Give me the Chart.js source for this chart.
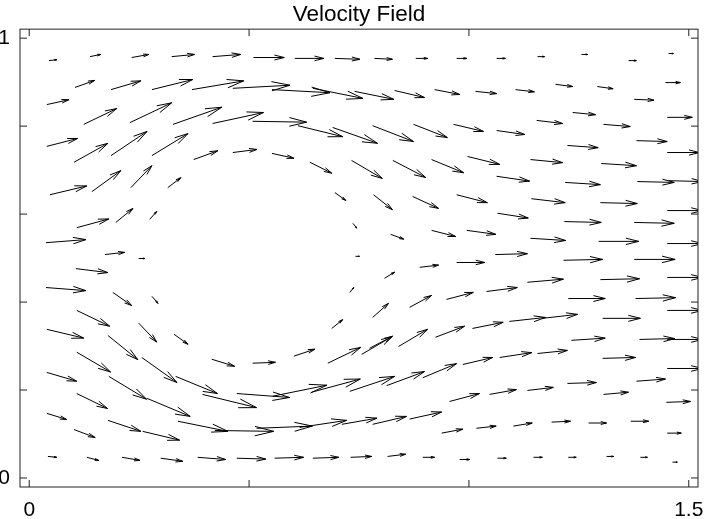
<!DOCTYPE html>
<html>
<head>
<meta charset="utf-8">
<title>Velocity Field</title>
<script src="https://cdn.jsdelivr.net/npm/chart.js@4.4.0/dist/chart.umd.min.js"></script>
<style>
  html, body { margin: 0; padding: 0; background: #fff; }
</style>
</head>
<body>
<canvas id="chart" width="705" height="519"></canvas>
<script>
// Quiver data: arrow tails (qx, qy) and vectors (qu, qv), in data units.
// One line per band of arrows, bottom rows last.
const qx = [
  0.045, 0.138, 0.233, 0.324, 0.417, 0.510, 0.604, 0.695, 0.785, 0.879, 0.972, 1.063, 1.156, 1.256, 1.363, 1.454,
  0.104, 0.186, 0.279, 0.370, 0.463, 0.552, 0.645, 0.740, 0.831, 0.922, 1.015, 1.106, 1.197, 1.292, 1.376, 1.447,
  0.040, 0.124, 0.229, 0.327, 0.417, 0.508, 0.611, 0.690, 0.781, 0.874, 0.965, 1.063, 1.154, 1.236, 1.306, 1.381, 1.451,
  0.040, 0.102, 0.186, 0.279, 0.374, 0.463, 0.552, 0.638, 0.733, 0.827, 0.915, 0.997, 1.140, 1.224, 1.301, 1.451,
  1.063, 1.219, 1.383, 1.454, 0.047, 0.1425, 0.231, 0.315, 0.695, 0.783, 0.872, 0.972, 1.142, 1.299, 1.451,
  0.108, 0.197, 0.274, 0.736, 1.065, 1.217, 1.376, 0.038, 0.822, 0.915, 0.995, 1.140, 1.295, 1.451,
  0.172, 0.249, 0.742, 0.106, 0.888, 0.972, 1.060, 1.215, 1.376, 1.451, 0.038, 0.190, 0.279, 0.729, 0.808, 1.133, 1.299,
  0.865, 0.949, 1.040, 1.226, 1.379, 1.451, 0.108, 0.040, 0.179, 0.249, 0.329, 0.688, 0.781, 1.008, 1.092, 1.167, 1.304, 0.924, 0.840, 0.774, 1.233, 1.388, 1.451,
  0.108, 0.040, 0.256, 0.415, 0.508, 0.602, 0.679, 0.756, 0.986, 1.070, 1.156, 1.304, 1.451, 0.181, 0.333,
  0.108, 0.268, 0.394, 0.472, 0.554, 0.642, 0.729, 0.813, 0.895, 0.956, 1.047, 1.133, 1.224, 1.306, 1.381, 1.449,
  0.040, 0.102, 0.179, 0.258, 0.338, 0.422, 0.517, 0.615, 0.711, 0.781, 0.865, 0.938, 1.017, 1.101, 1.188, 1.272, 1.368, 1.451,
  0.0425, 0.131, 0.211, 0.299, 0.383, 0.472, 0.558, 0.645, 0.731, 0.815, 0.895, 0.979, 1.065, 1.147, 1.226, 1.313, 1.390, 1.463
];
const qy = [
  0.949, 0.958, 0.956, 0.958, 0.958, 0.956, 0.954, 0.954, 0.954, 0.954, 0.954, 0.954, 0.958, 0.963, 0.949, 0.965,
  0.888, 0.883, 0.883, 0.883, 0.886, 0.883, 0.886, 0.879, 0.881, 0.883, 0.879, 0.883, 0.895, 0.890, 0.861, 0.899,
  0.849, 0.804, 0.808, 0.804, 0.806, 0.811, 0.801, 0.797, 0.801, 0.804, 0.804, 0.790, 0.813, 0.831, 0.804, 0.767, 0.820,
  0.754, 0.718, 0.733, 0.733, 0.724, 0.740, 0.738, 0.718, 0.722, 0.722, 0.724, 0.731, 0.724, 0.756, 0.715, 0.740,
  0.686, 0.672, 0.674, 0.676, 0.644, 0.651, 0.660, 0.660, 0.649, 0.644, 0.640, 0.644, 0.635, 0.626, 0.608,
  0.569, 0.581, 0.588, 0.579, 0.602, 0.583, 0.581, 0.535, 0.554, 0.563, 0.563, 0.545, 0.538, 0.533,
  0.508, 0.499, 0.504, 0.476, 0.479, 0.490, 0.508, 0.495, 0.497, 0.456, 0.433, 0.422, 0.413, 0.422, 0.454, 0.445, 0.451,
  0.388, 0.406, 0.424, 0.408, 0.408, 0.381, 0.381, 0.338, 0.324, 0.352, 0.327, 0.340, 0.365, 0.340, 0.356, 0.363, 0.363, 0.320, 0.299, 0.295, 0.313, 0.315, 0.315,
  0.286, 0.240, 0.274, 0.270, 0.261, 0.277, 0.261, 0.281, 0.258, 0.274, 0.283, 0.272, 0.249, 0.231, 0.231,
  0.192, 0.181, 0.190, 0.192, 0.186, 0.195, 0.197, 0.210, 0.228, 0.174, 0.190, 0.199, 0.215, 0.190, 0.220, 0.172,
  0.147, 0.110, 0.131, 0.106, 0.129, 0.108, 0.113, 0.115, 0.122, 0.122, 0.134, 0.102, 0.113, 0.118, 0.127, 0.125, 0.129, 0.102,
  0.049, 0.047, 0.047, 0.045, 0.047, 0.045, 0.045, 0.045, 0.047, 0.049, 0.047, 0.042, 0.045, 0.047, 0.047, 0.049, 0.047, 0.036
];
const qu = [
  0.018, 0.025, 0.039, 0.052, 0.064, 0.070, 0.066, 0.057, 0.041, 0.027, 0.023, 0.020, 0.016, 0.014, 0.018, 0.011,
  0.045, 0.068, 0.093, 0.118, 0.130, 0.132, 0.114, 0.089, 0.068, 0.057, 0.048, 0.043, 0.039, 0.036, 0.045, 0.034,
  0.050, 0.075, 0.095, 0.111, 0.116, 0.123, 0.102, 0.102, 0.093, 0.077, 0.068, 0.064, 0.059, 0.052, 0.061, 0.070, 0.057,
  0.070, 0.077, 0.082, 0.082, 0.055, 0.055, 0.050, 0.050, 0.070, 0.075, 0.073, 0.073, 0.073, 0.070, 0.080, 0.073,
  0.075, 0.080, 0.084, 0.077, 0.084, 0.066, 0.048, 0.030, 0.025, 0.043, 0.059, 0.070, 0.077, 0.084, 0.080,
  0.073, 0.039, 0.016, 0.009, 0.070, 0.084, 0.091, 0.091, 0.030, 0.055, 0.066, 0.080, 0.091, 0.080,
  0.045, 0.014, 0.009, 0.073, 0.043, 0.064, 0.073, 0.089, 0.093, 0.080, 0.091, 0.043, 0.014, 0.009, 0.023, 0.082, 0.089,
  0.050, 0.061, 0.070, 0.084, 0.091, 0.080, 0.075, 0.084, 0.068, 0.041, 0.032, 0.025, 0.036, 0.070, 0.082, 0.080, 0.086, 0.066, 0.066, 0.052, 0.077, 0.080, 0.080,
  0.077, 0.068, 0.080, 0.052, 0.052, 0.048, 0.075, 0.070, 0.068, 0.073, 0.068, 0.075, 0.080, 0.086, 0.095,
  0.070, 0.098, 0.123, 0.120, 0.123, 0.111, 0.102, 0.086, 0.077, 0.068, 0.061, 0.059, 0.066, 0.057, 0.066, 0.055,
  0.045, 0.048, 0.075, 0.084, 0.114, 0.134, 0.127, 0.107, 0.080, 0.077, 0.073, 0.048, 0.045, 0.043, 0.043, 0.041, 0.041, 0.032,
  0.020, 0.027, 0.041, 0.050, 0.064, 0.066, 0.066, 0.059, 0.048, 0.041, 0.027, 0.023, 0.020, 0.020, 0.018, 0.016, 0.016, 0.011
];
const qv = [
  0.002, 0.005, 0.007, 0.005, 0.005, 0, 0, -0.002, -0.002, 0, 0, 0, 0, 0, 0, 0,
  0.016, 0.020, 0.023, 0.020, 0.007, -0.007, -0.023, -0.018, -0.016, -0.011, -0.005, -0.005, -0.005, -0.005, -0.002, 0,
  0.011, 0.036, 0.045, 0.039, 0.025, -0.002, -0.025, -0.036, -0.036, -0.030, -0.016, -0.009, -0.007, -0.005, -0.005, -0.002, 0,
  0.018, 0.043, 0.055, 0.050, 0.020, 0.007, -0.011, -0.025, -0.041, -0.039, -0.030, -0.018, -0.007, -0.005, -0.005, 0,
  -0.011, -0.005, -0.002, -0.002, 0.020, 0.048, 0.050, 0.023, -0.018, -0.034, -0.027, -0.018, -0.009, -0.002, 0,
  0.020, 0.032, 0.018, -0.011, -0.011, -0.002, -0.002, 0.007, -0.011, -0.014, -0.009, -0.005, 0, 0,
  0.005, 0, 0, -0.009, 0.005, 0, 0.002, 0.002, 0, 0, -0.007, -0.030, -0.016, 0.011, 0.014, 0.007, 0.002,
  0.027, 0.016, 0.009, 0, 0.002, 0, -0.036, -0.020, -0.055, -0.043, -0.023, 0.020, 0.032, 0.014, 0.009, 0.009, 0, 0.025, 0.039, 0.027, 0.005, 0.002, 0,
  -0.045, -0.020, -0.057, -0.016, 0.002, 0.016, 0.036, 0.041, 0.016, 0.011, 0.007, 0.002, 0, -0.052, -0.039,
  -0.034, -0.041, -0.030, -0.009, 0.025, 0.030, 0.034, 0.032, 0.032, 0.018, 0.011, 0.007, 0.002, 0.005, 0.005, 0.002,
  -0.014, -0.018, -0.025, -0.020, -0.023, -0.002, 0.005, 0.016, 0.014, 0.018, 0.016, 0.009, 0.005, 0.007, 0.002, 0, 0, 0,
  -0.002, -0.007, -0.007, -0.007, -0.005, -0.002, 0.002, 0.002, 0.002, 0.005, 0, 0, 0, 0, 0, 0, 0, 0
];

// axes
const xTicks = [0, 0.5, 1, 1.5];
const yTicks = [0, 0.2, 0.4, 0.6, 0.8, 1];
const xLabels = { 0: "0", 1.5: "1.5" };
const yLabels = { 0: "0", 1: "1" };

const FONT = "'Liberation Sans', Arial, sans-serif";
const TICK_LEN = 7;

const n = Math.min(qx.length, qy.length, qu.length, qv.length);
const arrows = [];
for (let i = 0; i < n; i++) {
  arrows.push({ x: qx[i], y: qy[i], u: qu[i], v: qv[i] });
}

// draws the arrows (shaft + two-line head) and the boxed axes with inward ticks
const quiverPlugin = {
  id: "quiver",
  afterDatasetsDraw(chart) {
    const { ctx, chartArea: a } = chart;
    const xs = chart.scales.x, ys = chart.scales.y;
    ctx.save();
    ctx.beginPath();
    ctx.rect(a.left, a.top, a.right - a.left, a.bottom - a.top);
    ctx.clip();
    ctx.strokeStyle = "#000";
    ctx.lineWidth = 1;
    ctx.beginPath();
    chart.data.datasets[0].data.forEach(p => {
      const x0 = xs.getPixelForValue(p.x), y0 = ys.getPixelForValue(p.y);
      const x1 = xs.getPixelForValue(p.x + p.u), y1 = ys.getPixelForValue(p.y + p.v);
      const dx = x1 - x0, dy = y1 - y0;
      const bx = x1 - dx * 0.32, by = y1 - dy * 0.32;
      const w = 0.08;
      ctx.moveTo(x0, y0);
      ctx.lineTo(x1, y1);
      ctx.moveTo(bx - dy * w, by + dx * w);
      ctx.lineTo(x1, y1);
      ctx.lineTo(bx + dy * w, by - dx * w);
    });
    ctx.stroke();
    ctx.restore();
  },
  afterDraw(chart) {
    const { ctx, chartArea: a } = chart;
    const xs = chart.scales.x, ys = chart.scales.y;
    ctx.save();
    ctx.strokeStyle = "#222";
    ctx.lineWidth = 1;
    ctx.strokeRect(a.left, a.top, a.right - a.left, a.bottom - a.top);
    ctx.beginPath();
    xTicks.forEach(t => {
      const px = xs.getPixelForValue(t);
      ctx.moveTo(px, a.bottom); ctx.lineTo(px, a.bottom - TICK_LEN);
      ctx.moveTo(px, a.top); ctx.lineTo(px, a.top + TICK_LEN);
    });
    yTicks.forEach(t => {
      const py = ys.getPixelForValue(t);
      ctx.moveTo(a.left, py); ctx.lineTo(a.left + TICK_LEN, py);
      ctx.moveTo(a.right, py); ctx.lineTo(a.right - TICK_LEN, py);
    });
    ctx.stroke();
    ctx.restore();
  }
};

new Chart(document.getElementById("chart"), {
  type: "scatter",
  data: {
    datasets: [{
      data: arrows,
      pointRadius: 0,
      pointHoverRadius: 0,
      showLine: false
    }]
  },
  options: {
    responsive: false,
    animation: false,
    devicePixelRatio: 1,
    layout: { padding: { left: 0, right: 7, top: 0, bottom: 0 } },
    plugins: {
      legend: { display: false },
      tooltip: { enabled: false },
      title: {
        display: true,
        text: "Velocity Field",
        fullSize: false,
        color: "#000",
        font: { family: FONT, size: 22.5, weight: "normal", lineHeight: 1.1 },
        padding: { top: 2, bottom: 2.4 }
      }
    },
    scales: {
      x: {
        type: "linear",
        min: -0.021,
        max: 1.521,
        grid: { display: false, drawTicks: false },
        border: { display: false },
        afterBuildTicks: s => { s.ticks = xTicks.map(v => ({ value: v })); },
        afterFit: s => { s.height = 32; s.paddingLeft = 0; s.paddingRight = 0; },
        ticks: {
          autoSkip: false,
          maxRotation: 0,
          padding: 11,
          color: "#000",
          font: { family: FONT, size: 21 },
          callback: v => xLabels[v] || ""
        }
      },
      y: {
        type: "linear",
        min: -0.0205,
        max: 1.0205,
        grid: { display: false, drawTicks: false },
        border: { display: false },
        afterBuildTicks: s => { s.ticks = yTicks.map(v => ({ value: v })); },
        afterFit: s => { s.width = 20; s.paddingTop = 0; s.paddingBottom = 0; },
        ticks: {
          autoSkip: false,
          padding: 10,
          color: "#000",
          font: { family: FONT, size: 21 },
          callback: v => yLabels[v] || ""
        }
      }
    }
  },
  plugins: [quiverPlugin]
});
</script>
</body>
</html>
